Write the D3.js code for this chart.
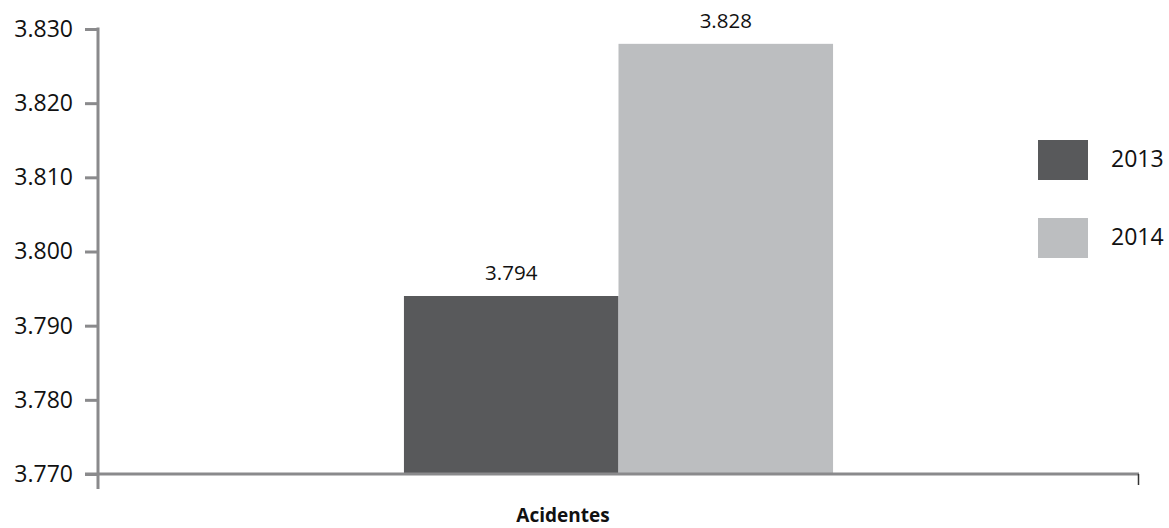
<!DOCTYPE html>
<html><head><meta charset="utf-8">
<script src="https://cdn.jsdelivr.net/npm/d3@7"></script>
<style>body{margin:0;background:#fff;} text{font-family:"Open Sans",sans-serif;}</style>
</head><body>
<svg id="c" width="1169" height="528"></svg>
<script>
const categories = ["Acidentes"];
const seriesNames = ["2013", "2014"];
const values2013 = [3794];
const values2014 = [3828];
const yTicks = [3770, 3780, 3790, 3800, 3810, 3820, 3830];
const colors = ["#58595b", "#bcbec0"];

(function(){
const svg = d3.select("#c");
const pLeft = 98, pRight = 1139, pTop = 29, pBottom = 474;
const fmt = v => (v/1000).toFixed(3);

const y = d3.scaleLinear().domain([3770, 3830]).range([pBottom, pTop]);
const x0 = d3.scaleBand().domain(categories).range([pLeft, pRight]).paddingInner(0).paddingOuter(0.713);
const x1 = d3.scaleBand().domain(seriesNames).range([0, x0.bandwidth()]);

const data = categories.map((c, i) => ({cat: c, vals: [values2013[i], values2014[i]]}));

const g = svg.append("g");
data.forEach(d => {
  d.vals.forEach((v, j) => {
    const xx = x0(d.cat) + x1(seriesNames[j]);
    g.append("rect").attr("x", xx).attr("y", y(v)).attr("width", x1.bandwidth()).attr("height", pBottom - y(v)).attr("fill", colors[j]);
    g.append("text").attr("x", xx + x1.bandwidth()/2).attr("y", y(v) - 16).attr("text-anchor", "middle")
      .attr("font-size", 20.5).attr("fill", "#111").text(fmt(v));
  });
});

const yAxis = d3.axisLeft(y).tickValues(yTicks).tickFormat(fmt).tickSize(13).tickPadding(12);
const ya = svg.append("g").attr("transform", `translate(${pLeft},0)`).call(yAxis);
ya.select(".domain").remove();
ya.selectAll(".tick line").attr("stroke", "#8a8a8c").attr("stroke-width", 3);
ya.selectAll(".tick text").attr("font-size", 23).attr("fill", "#111");
svg.append("line").attr("x1", pLeft).attr("x2", pLeft).attr("y1", pTop - 1.5).attr("y2", 489).attr("stroke", "#8a8a8c").attr("stroke-width", 3);

svg.append("line").attr("x1", 85).attr("x2", pRight).attr("y1", pBottom).attr("y2", pBottom).attr("stroke", "#8a8a8c").attr("stroke-width", 3);
svg.append("line").attr("x1", pRight - 0.5).attr("x2", pRight - 0.5).attr("y1", pBottom).attr("y2", 485).attr("stroke", "#333").attr("stroke-width", 1.5);
svg.append("text").attr("x", 563).attr("y", 522).attr("text-anchor", "middle")
  .attr("font-size", 19).attr("font-weight", "bold").attr("fill", "#111").text(categories[0]);

const leg = svg.append("g");
seriesNames.forEach((s, i) => {
  const ly = 140 + i * 78;
  leg.append("rect").attr("x", 1038).attr("y", ly).attr("width", 50).attr("height", 40).attr("fill", colors[i]);
  leg.append("text").attr("x", 1111).attr("y", ly + 27).attr("font-size", 23).attr("fill", "#111").text(s);
});
})();
</script>
</body></html>
